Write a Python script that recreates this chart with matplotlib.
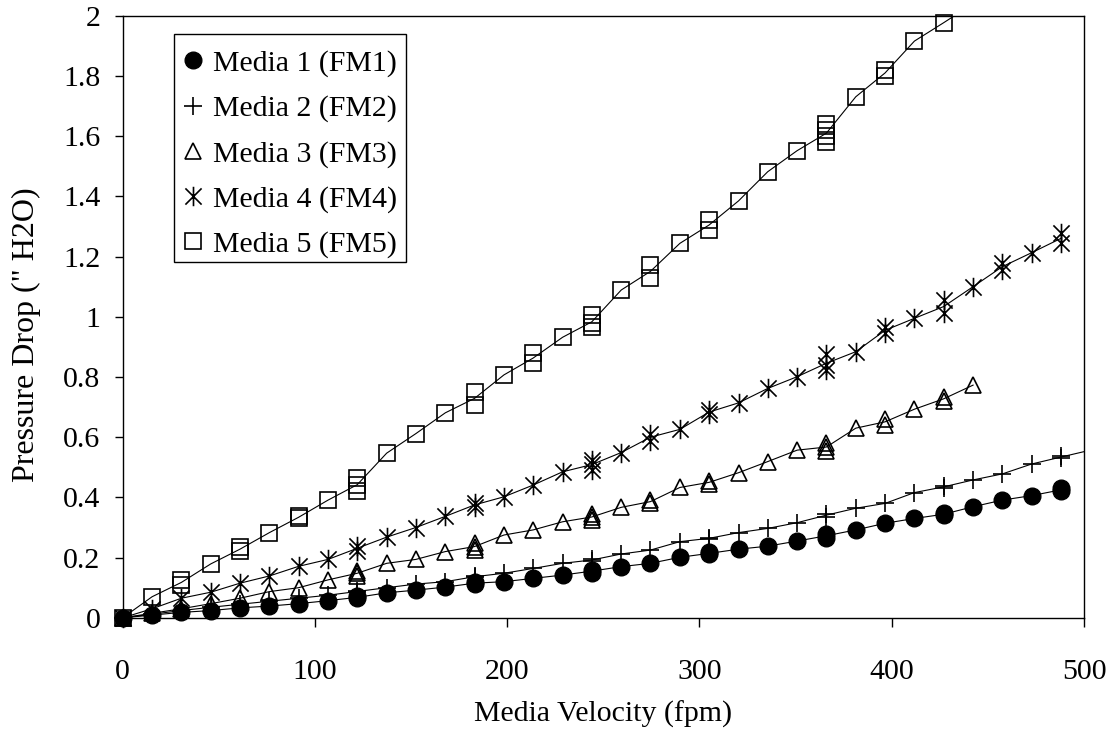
import numpy as np
import matplotlib
matplotlib.use("Agg")
import matplotlib.pyplot as plt
from matplotlib.path import Path
from matplotlib.patches import Rectangle
from matplotlib.lines import Line2D

# ---------------- data ----------------
fm1_x = [0, 15.3, 30.5, 45.8, 61.0, 76.3, 91.5, 106.8, 122.0, 122.0, 137.3, 152.5, 167.8, 183.0, 183.0,
         198.3, 213.5, 228.8, 244.0, 244.0, 259.3, 274.5, 289.8, 305.0, 305.0, 320.3, 335.5, 350.8,
         366.0, 366.0, 381.3, 396.5, 411.8, 427.0, 427.0, 442.3, 457.5, 472.8, 488.0, 488.0]
fm1_y = [0, 0.009, 0.018, 0.024, 0.033, 0.039, 0.047, 0.057, 0.065, 0.071, 0.083, 0.092, 0.102, 0.112, 0.118,
         0.120, 0.131, 0.142, 0.150, 0.160, 0.170, 0.181, 0.201, 0.211, 0.217, 0.228, 0.238, 0.255,
         0.265, 0.280, 0.292, 0.314, 0.330, 0.341, 0.347, 0.369, 0.391, 0.406, 0.420, 0.430]

fm2_x = [0, 15.3, 30.5, 45.8, 61.0, 76.3, 91.5, 106.8, 122.0, 122.0, 137.3, 152.5, 167.8, 183.0, 183.0,
         198.3, 213.5, 228.8, 244.0, 244.0, 259.3, 274.5, 289.8, 305.0, 305.0, 320.3, 335.5, 350.8,
         366.0, 366.0, 381.3, 396.5, 411.8, 427.0, 427.0, 442.3, 457.5, 472.8, 488.0, 488.0]
fm2_y = [0, 0.012, 0.024, 0.035, 0.045, 0.055, 0.065, 0.075, 0.085, 0.090, 0.100, 0.112, 0.120, 0.134, 0.139,
         0.148, 0.164, 0.181, 0.189, 0.195, 0.212, 0.225, 0.253, 0.262, 0.266, 0.283, 0.297, 0.316,
         0.336, 0.346, 0.364, 0.380, 0.416, 0.432, 0.438, 0.458, 0.478, 0.511, 0.531, 0.537]

fm3_x = [0, 15.3, 30.5, 45.8, 61.0, 76.3, 91.5, 106.8, 122.0, 122.0, 122.0, 137.3, 152.5, 167.8,
         183.0, 183.0, 183.0, 198.3, 213.5, 228.8, 244.0, 244.0, 244.0, 259.3, 274.5, 274.5, 289.8,
         305.0, 305.0, 320.3, 335.5, 350.8, 366.0, 366.0, 366.0, 381.3, 396.5, 396.5, 411.8,
         427.0, 427.0, 442.3]
fm3_y = [0, 0.015, 0.030, 0.047, 0.065, 0.087, 0.100, 0.126, 0.140, 0.148, 0.156, 0.181, 0.194, 0.220,
         0.226, 0.236, 0.248, 0.275, 0.292, 0.319, 0.325, 0.335, 0.345, 0.367, 0.380, 0.392, 0.433,
         0.445, 0.455, 0.482, 0.519, 0.557, 0.555, 0.567, 0.580, 0.630, 0.642, 0.660, 0.693,
         0.720, 0.735, 0.773]

fm4_x = [0, 15.3, 30.5, 45.8, 61.0, 76.3, 91.5, 106.8, 122.0, 122.0, 137.3, 152.5, 167.8, 183.0, 183.0,
         198.3, 213.5, 228.8, 244.0, 244.0, 244.0, 259.3, 274.5, 274.5, 289.8, 305.0, 305.0, 320.3,
         335.5, 350.8, 366.0, 366.0, 366.0, 381.3, 396.5, 396.5, 411.8, 427.0, 427.0, 442.3,
         457.5, 457.5, 472.8, 488.0, 488.0]
fm4_y = [0, 0.030, 0.065, 0.085, 0.115, 0.139, 0.171, 0.194, 0.222, 0.240, 0.268, 0.300, 0.337, 0.368, 0.382,
         0.402, 0.441, 0.485, 0.492, 0.510, 0.525, 0.549, 0.588, 0.612, 0.626, 0.677, 0.690, 0.714,
         0.762, 0.801, 0.822, 0.840, 0.875, 0.884, 0.945, 0.965, 0.995, 1.012, 1.056, 1.100,
         1.155, 1.178, 1.213, 1.244, 1.277]

fm5_x = [0, 15.3, 30.5, 30.5, 45.8, 61.0, 61.0, 76.3, 91.5, 91.5, 106.8, 122.0, 122.0, 122.0, 137.3,
         152.5, 167.8, 183.0, 183.0, 198.3, 213.5, 213.5, 228.8, 244.0, 244.0, 244.0, 259.3, 274.5,
         274.5, 289.8, 305.0, 305.0, 320.3, 335.5, 350.8, 366.0, 366.0, 366.0, 366.0, 381.3,
         396.5, 396.5, 411.8, 427.0]
fm5_y = [0, 0.070, 0.110, 0.125, 0.179, 0.222, 0.234, 0.283, 0.330, 0.338, 0.391, 0.420, 0.442, 0.465, 0.547,
         0.612, 0.681, 0.707, 0.751, 0.807, 0.845, 0.881, 0.932, 0.965, 0.980, 1.005, 1.089, 1.130,
         1.172, 1.244, 1.288, 1.322, 1.385, 1.482, 1.552, 1.580, 1.600, 1.620, 1.640, 1.731,
         1.800, 1.820, 1.916, 1.977]

# points where the smooth curves run past the last measurement
fm2_line_ext = (500.0, 0.552)
fm5_line_ext = (442.3, 2.040)

labels = ["Media 1 (FM1)", "Media 2 (FM2)", "Media 3 (FM3)", "Media 4 (FM4)", "Media 5 (FM5)"]
x_ticks = [0, 100, 200, 300, 400, 500]
y_ticks = [0, 0.2, 0.4, 0.6, 0.8, 1.0, 1.2, 1.4, 1.6, 1.8, 2.0]
y_tick_labels = ["0", "0.2", "0.4", "0.6", "0.8", "1", "1.2", "1.4", "1.6", "1.8", "2"]

# ---------------- style ----------------
plt.rcParams["font.family"] = ["Liberation Serif", "DejaVu Serif"]
FS = 21.5

star_path = Path([(-0.5, -0.5), (0.5, 0.5), (-0.5, 0.5), (0.5, -0.5), (0, -0.6), (0, 0.6)],
                 [Path.MOVETO, Path.LINETO, Path.MOVETO, Path.LINETO, Path.MOVETO, Path.LINETO])

styles = [
    dict(marker="o", ms=12, mfc="black", mec="black", mew=1.0),
    dict(marker="+", ms=12.5, mfc="none", mec="black", mew=1.2),
    dict(marker="^", ms=12, mfc="none", mec="black", mew=1.2),
    dict(marker=star_path, ms=14, mfc="none", mec="black", mew=1.2),
    dict(marker="s", ms=11, mfc="none", mec="black", mew=1.2),
]

fig = plt.figure(figsize=(11.19, 7.32), dpi=100)
ax = fig.add_axes([122.7 / 1119, 1 - 617.8 / 732, (1084 - 122.7) / 1119, (617.8 - 15.8) / 732])

series = [(fm1_x, fm1_y, None), (fm2_x, fm2_y, fm2_line_ext), (fm3_x, fm3_y, None),
          (fm4_x, fm4_y, None), (fm5_x, fm5_y, fm5_line_ext)]

for (xs, ys, ext), st in zip(series, styles):
    xs = np.asarray(xs, float)
    ys = np.asarray(ys, float)
    ux = np.unique(xs)
    my = np.array([ys[xs == u].mean() for u in ux])
    if ext is not None:
        ux = np.append(ux, ext[0])
        my = np.append(my, ext[1])
    ax.plot(ux, my, color="black", lw=0.8, zorder=2)
    ax.plot(xs, ys, linestyle="none", clip_on=False, zorder=3, **st)

ax.set_xlim(0, 500)
ax.set_ylim(0, 2)
ax.set_xticks(x_ticks)
ax.set_yticks(y_ticks)
ax.set_yticklabels(y_tick_labels)
ax.tick_params(axis="x", direction="out", length=6.5, width=1, pad=23, labelsize=FS, top=False)
ax.tick_params(axis="y", direction="out", length=6, width=1, pad=10, labelsize=FS, right=False)
for s in ax.spines.values():
    s.set_linewidth(1.0)
    s.set_color("black")

ax.set_xlabel("Media Velocity (fpm)", fontsize=FS)
ax.xaxis.set_label_coords(0.5, -0.138)
ax.set_ylabel("Pressure Drop (\" H2O)", fontsize=23)
ax.yaxis.set_label_coords(-0.085, 0.47)

# legend (frame drawn separately)
handles = [Line2D([], [], linestyle="none", **st) for st in styles]
leg = fig.legend(handles, labels, loc="upper left", bbox_to_anchor=(180 / 1119, 1 - 50 / 732),
                 frameon=False, fontsize=FS, borderpad=0, borderaxespad=0,
                 handlelength=0.9, handletextpad=0.2, labelspacing=0.6)
fig.add_artist(Rectangle((174 / 1119, 1 - 261.7 / 732), (405.7 - 174) / 1119, (261.7 - 33.7) / 732,
                         transform=fig.transFigure, fill=False, edgecolor="black", lw=1.0))

fig.savefig("out.png", dpi=100, facecolor="white")
